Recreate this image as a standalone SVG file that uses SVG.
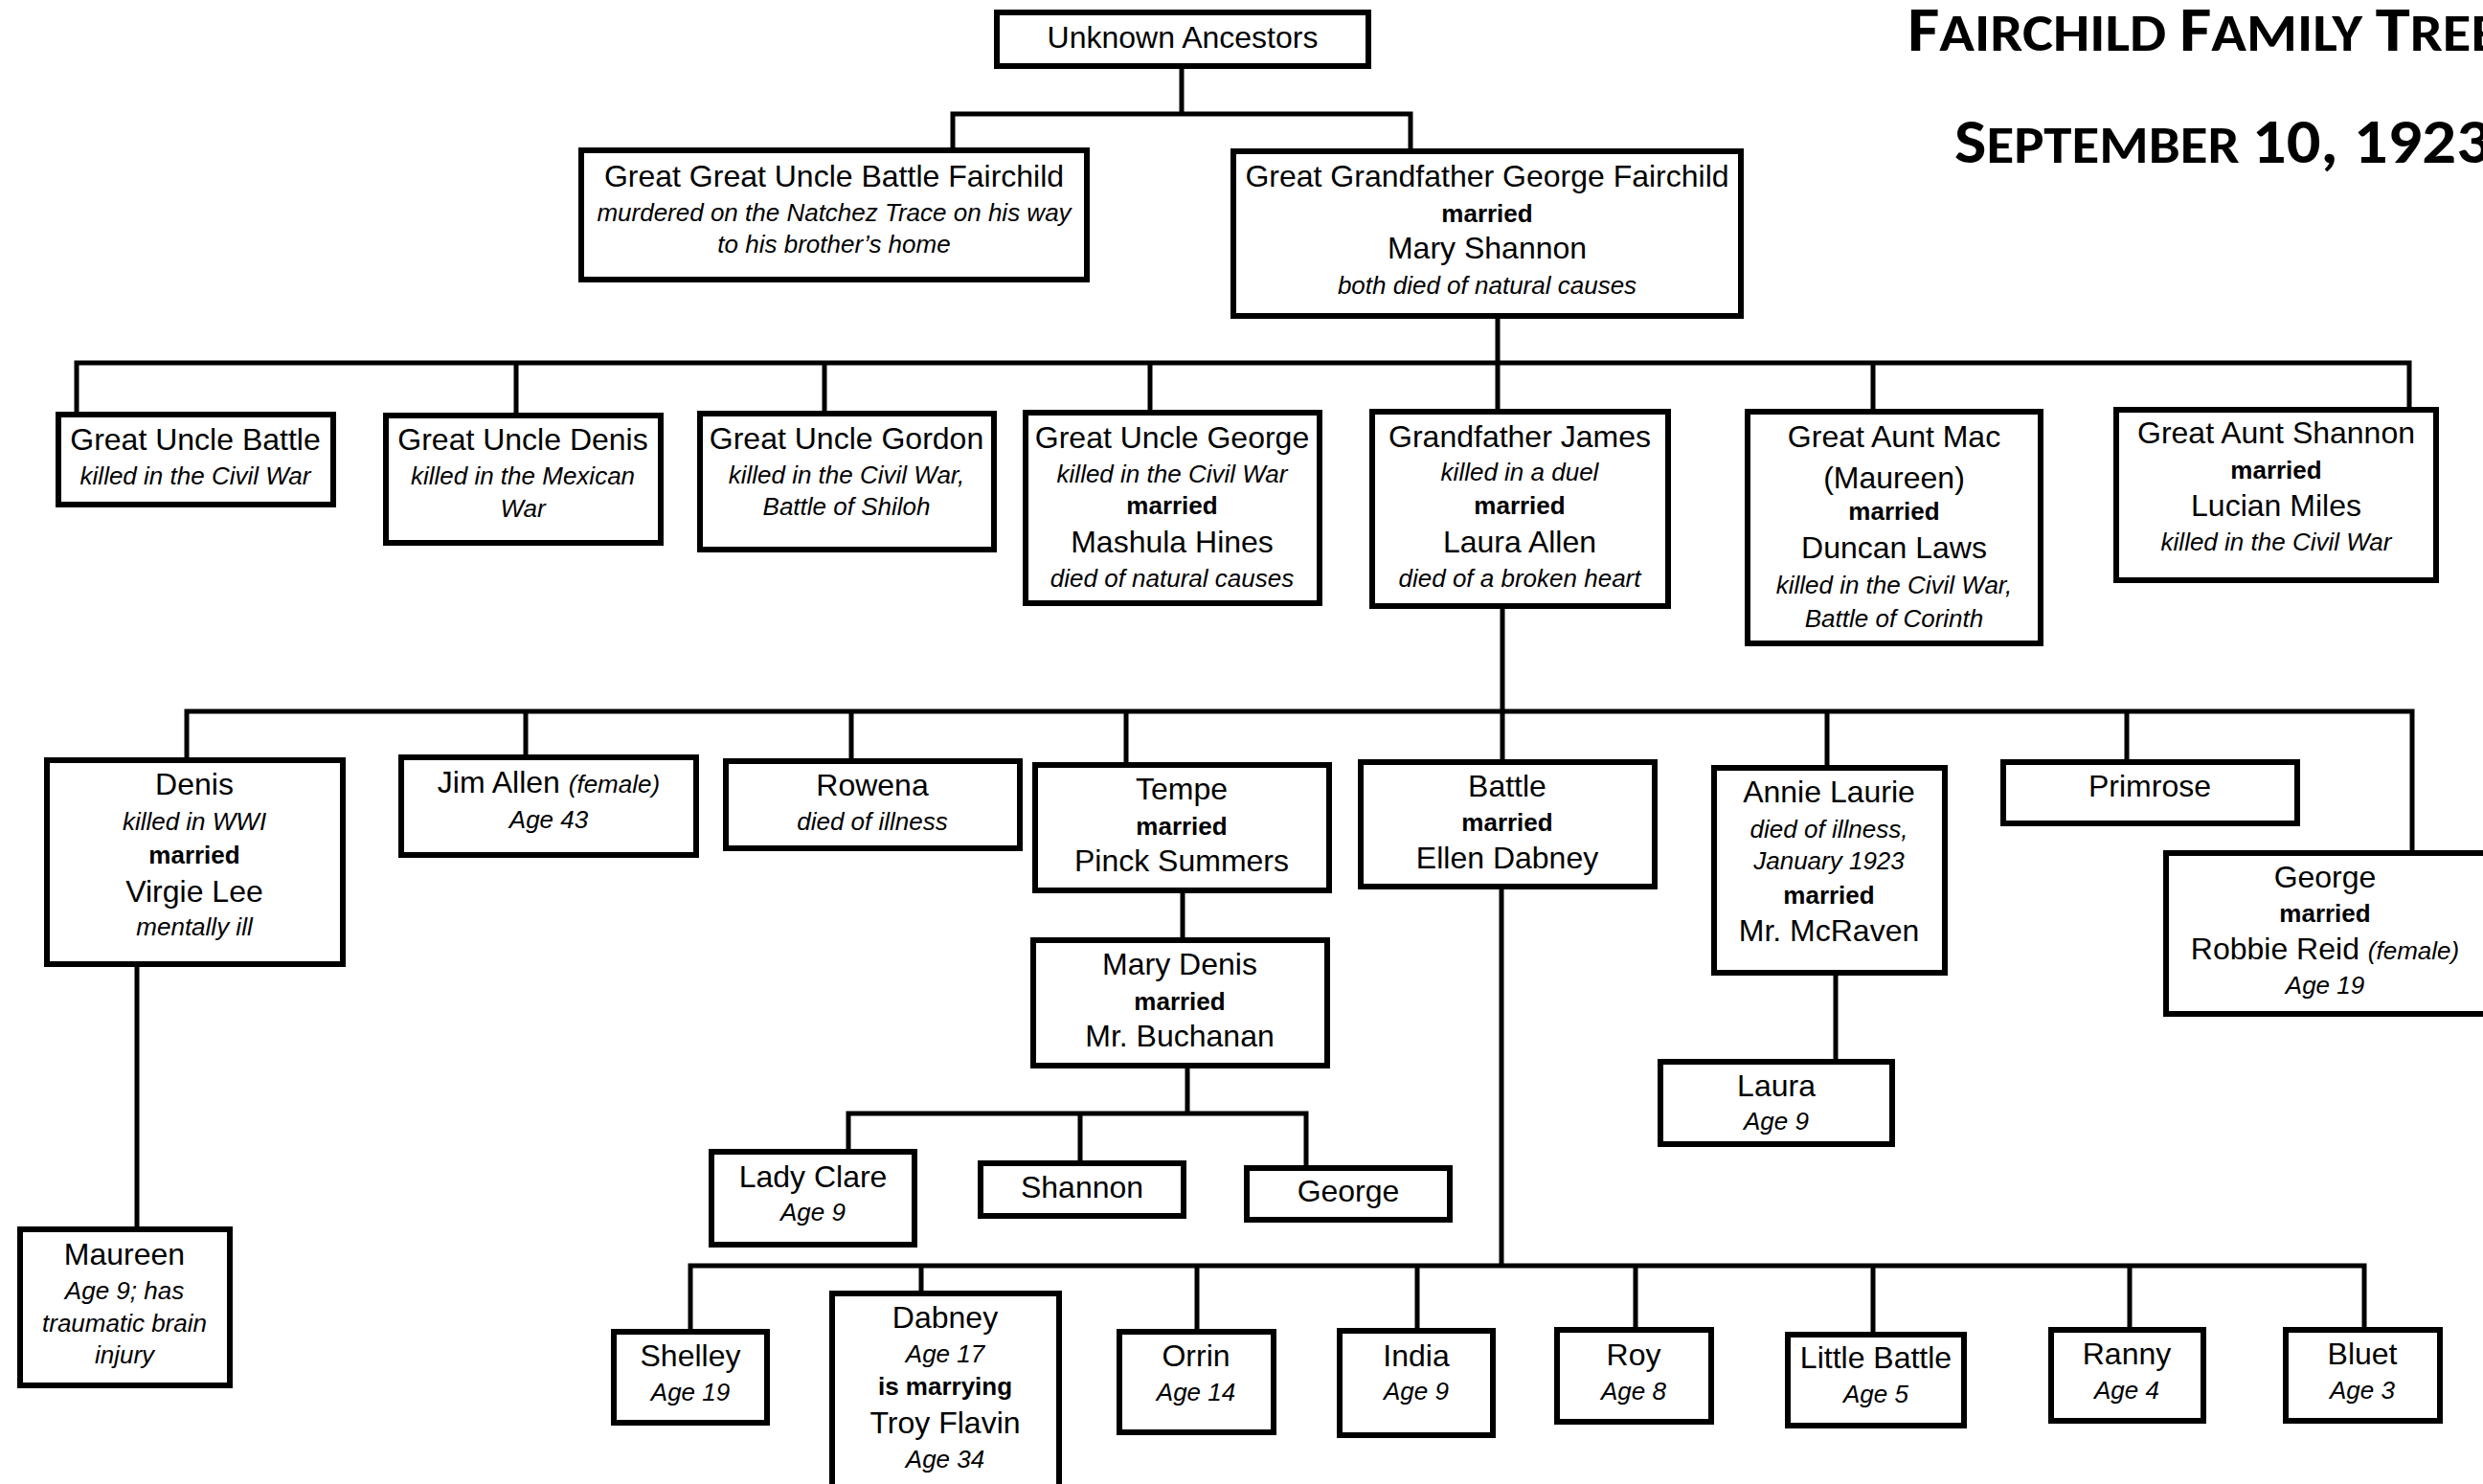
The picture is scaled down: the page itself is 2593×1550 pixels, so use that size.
<svg xmlns="http://www.w3.org/2000/svg" width="2593" height="1550" viewBox="0 0 2593 1550">
<style>
.bx{fill:#fff;stroke:#000;stroke-width:6}
.c{fill:none;stroke:#000;stroke-width:5;stroke-linejoin:miter;stroke-linecap:square}
text{font-family:'Liberation Sans',Arial,sans-serif;fill:#000;text-anchor:middle;font-size:32px}
.i{font-style:italic;font-size:26px}
.b{font-weight:bold;font-size:26px}
.t{font-family:Carlito,Lato,'Liberation Sans',sans-serif;font-weight:bold;text-anchor:start}
</style>
<rect width="2593" height="1550" fill="#fff"/>
<g id="title">
<text class="t" x="1992" y="53" textLength="618" lengthAdjust="spacingAndGlyphs"><tspan font-size="66">F</tspan><tspan font-size="55">AIRCHILD </tspan><tspan font-size="66">F</tspan><tspan font-size="55">AMILY </tspan><tspan font-size="66">T</tspan><tspan font-size="55">REE</tspan></text>
<text class="t" x="2041" y="170" textLength="560" lengthAdjust="spacingAndGlyphs"><tspan font-size="66">S</tspan><tspan font-size="55">EPTEMBER </tspan><tspan font-size="66">10, 1923</tspan></text>
</g>
<g id="connectors">
<path class="c" d="M1234 72V119M995 157V119H1473V158"/>
<path class="c" d="M1564 333V430M80 433V379H2516V428M539 379V434M861 379V432M1201 379V431M1956 379V430"/>
<path class="c" d="M1569 636V796M195 794V743H2519V891M549 743V791M889 743V795M1176 743V799M1908 743V802M2221 743V796"/>
<path class="c" d="M1235 933V982"/>
<path class="c" d="M1240 1116V1163M886 1203V1163H1364V1220M1128 1163V1215"/>
<path class="c" d="M143 1010V1284"/>
<path class="c" d="M1917 1019V1109"/>
<path class="c" d="M1568 929V1322M721 1391V1322H2469V1389M962 1322V1351M1250 1322V1391M1480 1322V1390M1708 1322V1389M1956 1322V1394M2224 1322V1389"/>
</g>
<g id="unknown-ancestors"><rect class="bx" x="1041" y="13" width="388" height="56"/><text x="1235" y="50">Unknown Ancestors</text></g>
<g id="gg-uncle-battle"><rect class="bx" x="607" y="157" width="528" height="135"/><text x="871" y="195">Great Great Uncle Battle Fairchild</text><text class="i" x="871" y="231">murdered on the Natchez Trace on his way</text><text class="i" x="871" y="264">to his brother’s home</text></g>
<g id="gg-george"><rect class="bx" x="1288" y="158" width="530" height="172"/><text x="1553" y="195">Great Grandfather George Fairchild</text><text class="b" x="1553" y="232">married</text><text x="1553" y="270">Mary Shannon</text><text class="i" x="1553" y="307">both died of natural causes</text></g>
<g id="gu-battle"><rect class="bx" x="61" y="433" width="287" height="94"/><text x="204" y="470">Great Uncle Battle</text><text class="i" x="204" y="506">killed in the Civil War</text></g>
<g id="gu-denis"><rect class="bx" x="403" y="434" width="287" height="133"/><text x="546" y="470">Great Uncle Denis</text><text class="i" x="546" y="506">killed in the Mexican</text><text class="i" x="546" y="540">War</text></g>
<g id="gu-gordon"><rect class="bx" x="731" y="432" width="307" height="142"/><text x="884" y="469">Great Uncle Gordon</text><text class="i" x="884" y="505">killed in the Civil War,</text><text class="i" x="884" y="538">Battle of Shiloh</text></g>
<g id="gu-george"><rect class="bx" x="1071" y="431" width="307" height="199"/><text x="1224" y="468">Great Uncle George</text><text class="i" x="1224" y="504">killed in the Civil War</text><text class="b" x="1224" y="537">married</text><text x="1224" y="577">Mashula Hines</text><text class="i" x="1224" y="613">died of natural causes</text></g>
<g id="grandfather-james"><rect class="bx" x="1433" y="430" width="309" height="203"/><text x="1587" y="467">Grandfather James</text><text class="i" x="1587" y="502">killed in a duel</text><text class="b" x="1587" y="537">married</text><text x="1587" y="577">Laura Allen</text><text class="i" x="1587" y="613">died of a broken heart</text></g>
<g id="ga-mac"><rect class="bx" x="1825" y="430" width="306" height="242"/><text x="1978" y="467">Great Aunt Mac</text><text x="1978" y="510">(Maureen)</text><text class="b" x="1978" y="543">married</text><text x="1978" y="583">Duncan Laws</text><text class="i" x="1978" y="620">killed in the Civil War,</text><text class="i" x="1978" y="655">Battle of Corinth</text></g>
<g id="ga-shannon"><rect class="bx" x="2210" y="428" width="334" height="178"/><text x="2377" y="463">Great Aunt Shannon</text><text class="b" x="2377" y="500">married</text><text x="2377" y="539">Lucian Miles</text><text class="i" x="2377" y="575">killed in the Civil War</text></g>
<g id="denis"><rect class="bx" x="49" y="794" width="309" height="213"/><text x="203" y="830">Denis</text><text class="i" x="203" y="867">killed in WWI</text><text class="b" x="203" y="902">married</text><text x="203" y="942">Virgie Lee</text><text class="i" x="203" y="977">mentally ill</text></g>
<g id="jim-allen"><rect class="bx" x="419" y="791" width="308" height="102"/><text x="573" y="828">Jim Allen <tspan class="i">(female)</tspan></text><text class="i" x="573" y="865">Age 43</text></g>
<g id="rowena"><rect class="bx" x="758" y="795" width="307" height="91"/><text x="911" y="831">Rowena</text><text class="i" x="911" y="867">died of illness</text></g>
<g id="tempe"><rect class="bx" x="1081" y="799" width="307" height="131"/><text x="1234" y="835">Tempe</text><text class="b" x="1234" y="872">married</text><text x="1234" y="910">Pinck Summers</text></g>
<g id="battle"><rect class="bx" x="1421" y="796" width="307" height="130"/><text x="1574" y="832">Battle</text><text class="b" x="1574" y="868">married</text><text x="1574" y="907">Ellen Dabney</text></g>
<g id="annie-laurie"><rect class="bx" x="1790" y="802" width="241" height="214"/><text x="1910" y="838">Annie Laurie</text><text class="i" x="1910" y="875">died of illness,</text><text class="i" x="1910" y="908">January 1923</text><text class="b" x="1910" y="944">married</text><text x="1910" y="983">Mr. McRaven</text></g>
<g id="primrose"><rect class="bx" x="2092" y="796" width="307" height="64"/><text x="2245" y="832">Primrose</text></g>
<g id="george"><rect class="bx" x="2262" y="891" width="336" height="168"/><text x="2428" y="927">George</text><text class="b" x="2428" y="963">married</text><text x="2428" y="1002">Robbie Reid <tspan class="i">(female)</tspan></text><text class="i" x="2428" y="1038">Age 19</text></g>
<g id="mary-denis"><rect class="bx" x="1079" y="982" width="307" height="131"/><text x="1232" y="1018">Mary Denis</text><text class="b" x="1232" y="1055">married</text><text x="1232" y="1093">Mr. Buchanan</text></g>
<g id="laura"><rect class="bx" x="1734" y="1109" width="242" height="86"/><text x="1855" y="1145">Laura</text><text class="i" x="1855" y="1180">Age 9</text></g>
<g id="maureen"><rect class="bx" x="21" y="1284" width="219" height="163"/><text x="130" y="1321">Maureen</text><text class="i" x="130" y="1357">Age 9; has</text><text class="i" x="130" y="1391">traumatic brain</text><text class="i" x="130" y="1424">injury</text></g>
<g id="lady-clare"><rect class="bx" x="743" y="1203" width="212" height="97"/><text x="849" y="1240">Lady Clare</text><text class="i" x="849" y="1275">Age 9</text></g>
<g id="shannon"><rect class="bx" x="1024" y="1215" width="212" height="55"/><text x="1130" y="1251">Shannon</text></g>
<g id="george-buchanan"><rect class="bx" x="1302" y="1220" width="212" height="54"/><text x="1408" y="1255">George</text></g>
<g id="shelley"><rect class="bx" x="641" y="1391" width="160" height="95"/><text x="721" y="1427">Shelley</text><text class="i" x="721" y="1463">Age 19</text></g>
<g id="dabney"><rect class="bx" x="869" y="1351" width="237" height="215"/><text x="987" y="1387">Dabney</text><text class="i" x="987" y="1423">Age 17</text><text class="b" x="987" y="1457">is marrying</text><text x="987" y="1497">Troy Flavin</text><text class="i" x="987" y="1533">Age 34</text></g>
<g id="orrin"><rect class="bx" x="1169" y="1391" width="161" height="105"/><text x="1249" y="1427">Orrin</text><text class="i" x="1249" y="1463">Age 14</text></g>
<g id="india"><rect class="bx" x="1399" y="1390" width="160" height="109"/><text x="1479" y="1427">India</text><text class="i" x="1479" y="1462">Age 9</text></g>
<g id="roy"><rect class="bx" x="1626" y="1389" width="161" height="96"/><text x="1706" y="1426">Roy</text><text class="i" x="1706" y="1462">Age 8</text></g>
<g id="little-battle"><rect class="bx" x="1867" y="1394" width="184" height="95"/><text x="1959" y="1429">Little Battle</text><text class="i" x="1959" y="1465">Age 5</text></g>
<g id="ranny"><rect class="bx" x="2142" y="1389" width="159" height="95"/><text x="2221" y="1425">Ranny</text><text class="i" x="2221" y="1461">Age 4</text></g>
<g id="bluet"><rect class="bx" x="2387" y="1389" width="161" height="95"/><text x="2467" y="1425">Bluet</text><text class="i" x="2467" y="1461">Age 3</text></g>
</svg>
